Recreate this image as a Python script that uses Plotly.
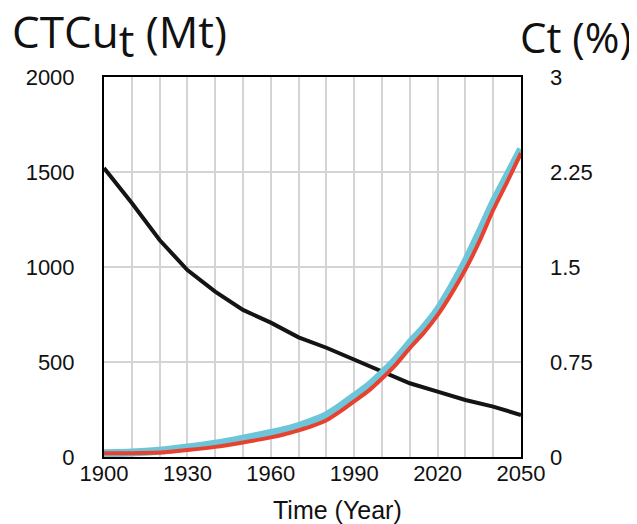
import plotly.graph_objects as go

years = [1900, 1910, 1920, 1930, 1940, 1950, 1960, 1970, 1980, 1990, 2000, 2010, 2020, 2030, 2040, 2050]
ctcu_mt = [1521, 1337, 1142, 984, 870, 774, 707, 630, 575, 511, 449, 388, 344, 300, 265, 221]

ct_years = [1900, 1910, 1920, 1930, 1940, 1950, 1960, 1965, 1970, 1975, 1980, 1985, 1990, 1995,
            2000, 2005, 2010, 2015, 2020, 2025, 2030, 2035, 2040, 2045, 2050]
ct_cyan = [0.03, 0.035, 0.05, 0.075, 0.105, 0.145, 0.19, 0.215, 0.245, 0.285, 0.33, 0.40, 0.48, 0.56,
           0.66, 0.77, 0.90, 1.02, 1.16, 1.34, 1.54, 1.77, 2.01, 2.22, 2.43]
ct_red = [0.03, 0.03, 0.035, 0.055, 0.08, 0.115, 0.155, 0.18, 0.21, 0.245, 0.29, 0.36, 0.44, 0.52,
          0.62, 0.73, 0.86, 0.98, 1.12, 1.29, 1.48, 1.70, 1.95, 2.17, 2.40]

x_ticks = [1900, 1930, 1960, 1990, 2020, 2050]
y_left_ticks = [0, 500, 1000, 1500, 2000]
y_right_ticks = [0, 0.75, 1.5, 2.25, 3]
y_right_labels = ["0", "0.75", "1.5", "2.25", "3"]

GRID = "#d4d4d4"
TICKFONT = dict(family="Liberation Sans, Arial, sans-serif", size=22, color="#111111")

fig = go.Figure()
fig.add_trace(go.Scatter(x=years, y=ctcu_mt, mode="lines",
                         line=dict(color="#141414", width=4), yaxis="y", showlegend=False))
fig.add_trace(go.Scatter(x=ct_years, y=ct_cyan, mode="lines",
                         line=dict(color="#6cc5d8", width=8, shape="spline", smoothing=0.6),
                         yaxis="y2", showlegend=False))
fig.add_trace(go.Scatter(x=ct_years, y=ct_red, mode="lines",
                         line=dict(color="#e8412f", width=4, shape="spline", smoothing=0.6),
                         yaxis="y2", showlegend=False))

fig.update_layout(
    width=629, height=516,
    margin=dict(l=96, r=116, t=69, b=67),
    paper_bgcolor="white", plot_bgcolor="white",
    xaxis=dict(range=[1900, 2050], tickvals=x_ticks, showgrid=True, gridcolor=GRID, gridwidth=1.5,
               minor=dict(dtick=10, tick0=1900, showgrid=True, gridcolor=GRID, gridwidth=1.5),
               showline=True, linecolor="black", linewidth=2, mirror=True,
               tickfont=TICKFONT, ticks="", zeroline=False, ticklabelstandoff=-4),
    yaxis=dict(range=[0, 2000], tickvals=y_left_ticks, showgrid=True, gridcolor=GRID, gridwidth=1.5,
               showline=True, linecolor="black", linewidth=2, mirror=True,
               tickfont=TICKFONT, ticks="", zeroline=False, ticklabelstandoff=23),
    yaxis2=dict(range=[0, 3], tickvals=y_right_ticks, ticktext=y_right_labels, overlaying="y", side="right",
                showgrid=False, showline=False, tickfont=TICKFONT, ticks="", zeroline=False,
                ticklabelstandoff=28),
    annotations=[
        dict(text="CTCu<sub><span style='font-size:44px'>t</span></sub> (Mt)", xref="paper", yref="paper",
             x=-0.225, y=1.108, xanchor="left", yanchor="middle", showarrow=False,
             font=dict(family="Open Sans, sans-serif", size=44, color="#111111")),
        dict(text="Ct (%)", xref="paper", yref="paper",
             x=0.993, y=1.106, xanchor="left", yanchor="middle", showarrow=False,
             font=dict(family="Open Sans, sans-serif", size=42, color="#111111")),
        dict(text="Time (Year)", xref="paper", yref="paper",
             x=0.56, y=-0.139, xanchor="center", yanchor="middle", showarrow=False,
             font=dict(family="Liberation Sans, Arial, sans-serif", size=25, color="#111111")),
    ],
)

fig.write_html("out.html")
